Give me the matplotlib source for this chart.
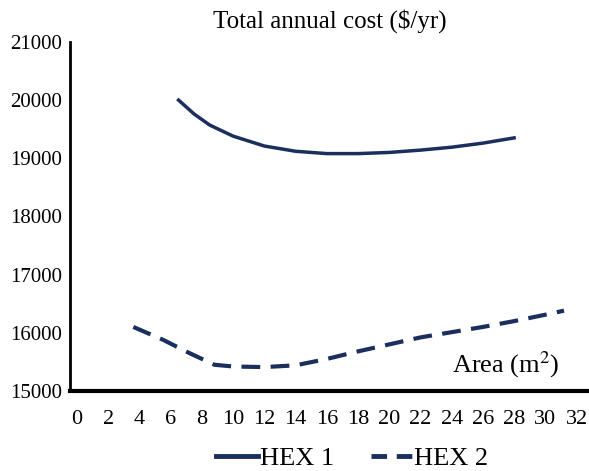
import matplotlib.pyplot as plt

# 読み取った値
hex1_area = [6.5, 7.5, 8.5, 10, 12, 14, 16, 18, 20, 22, 24, 26, 28]
hex1_cost = [20000, 19760, 19570, 19380, 19210, 19120, 19080, 19080, 19100, 19140, 19190, 19260, 19350]

hex2_area = [3.6, 5.5, 7.2, 8.8, 10, 12, 14, 16, 18, 20, 22, 24, 26, 28, 30, 31.2]
hex2_cost = [16100, 15880, 15650, 15450, 15420, 15410, 15440, 15550, 15680, 15800, 15920, 16010, 16100, 16200, 16310, 16380]

x_ticks = list(range(0, 33, 2))
y_ticks = [15000, 16000, 17000, 18000, 19000, 20000, 21000]

plt.rcParams['font.family'] = ['Liberation Serif', 'DejaVu Serif']

fig = plt.figure(figsize=(5.89, 4.71), dpi=100)
ax = fig.add_axes([0.119, 0.170, 0.881, 0.741])

navy = '#1b2f5e'
ax.plot(hex1_area, hex1_cost, color=navy, lw=2.5, label='HEX 1')
ax.plot(hex2_area, hex2_cost, color=navy, lw=3, dashes=(4.5, 2.5), label='HEX 2')

ax.set_xlim(-0.45, 32.8)
ax.set_ylim(15000, 21000)
ax.set_xticks(x_ticks)
ax.set_yticks(y_ticks)
ax.tick_params(axis='x', length=0, labelsize=16, pad=14)
ax.tick_params(axis='y', length=0, labelsize=15, pad=6)

for s in ['top', 'right']:
    ax.spines[s].set_visible(False)
ax.spines['bottom'].set_linewidth(3)
ax.spines['left'].set_linewidth(2)

fig.text(0.56, 0.955, 'Total annual cost ($/yr)', ha='center', va='center', fontsize=18)
ax.text(0.944, 0.075, 'Area (m$^2$)', transform=ax.transAxes, ha='right', va='center',
        fontsize=19, math_fontfamily='stix')

leg = fig.legend(loc='center', bbox_to_anchor=(0.598, 0.027), ncol=2, frameon=False,
                 fontsize=19, handlelength=1.6, handletextpad=0.05, columnspacing=1.4)
h1, h2 = leg.get_lines()
h1.set_linewidth(3.5)
h2.set_linewidth(3.5)
h2.set_dashes((3.2, 2.0))

fig.savefig('out.png', dpi=100)
